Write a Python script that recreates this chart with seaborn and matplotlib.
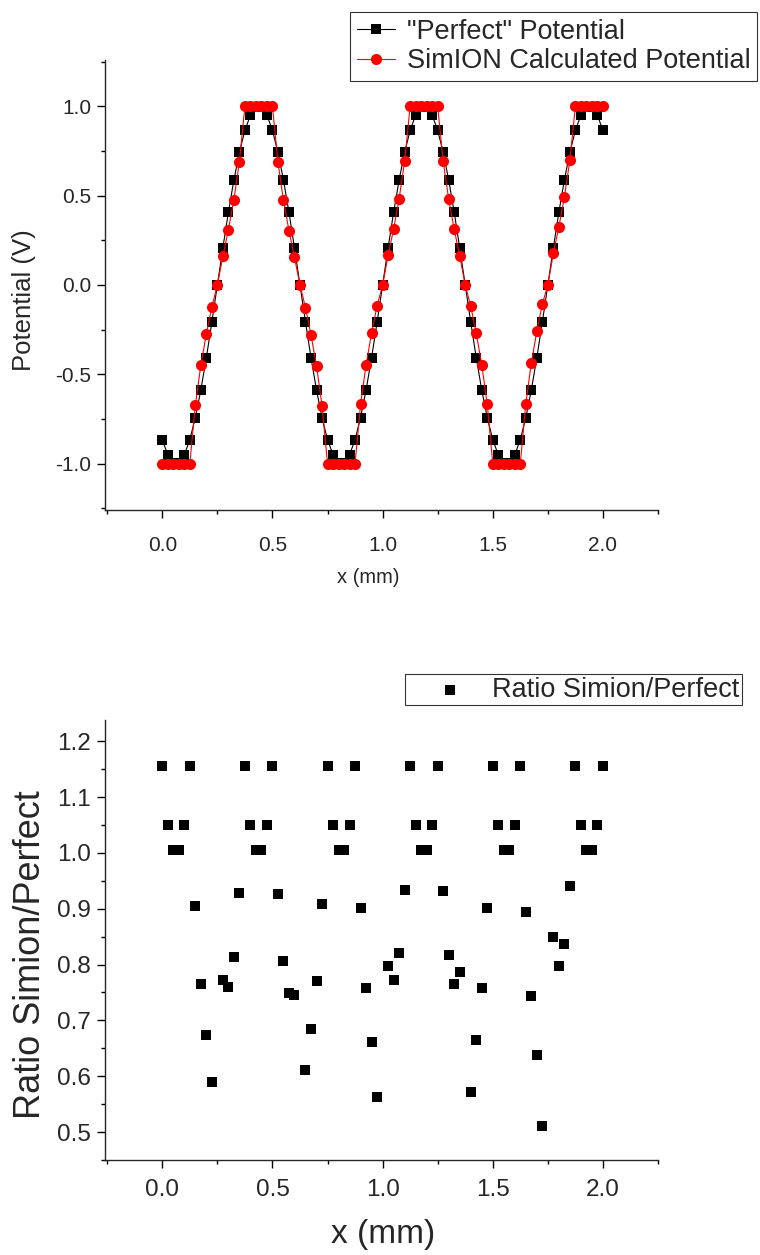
import numpy as np
import pandas as pd
import matplotlib
matplotlib.use("Agg")
import matplotlib.pyplot as plt
from matplotlib.ticker import MultipleLocator, AutoMinorLocator, FormatStrFormatter
import seaborn as sns

# ---------------- data ----------------
x_mm = [round(0.025 * i, 3) for i in range(81)]

perfect = [
    -0.866, -0.951, -0.995, -0.995, -0.951, -0.866, -0.743, -0.588, -0.407, -0.208,
    0.0, 0.208, 0.407, 0.588, 0.743, 0.866, 0.951, 0.995, 0.995, 0.951,
    0.866, 0.743, 0.588, 0.407, 0.208, 0.0, -0.208, -0.407, -0.588, -0.743,
    -0.866, -0.951, -0.995, -0.995, -0.951, -0.866, -0.743, -0.588, -0.407, -0.208,
    0.0, 0.208, 0.407, 0.588, 0.743, 0.866, 0.951, 0.995, 0.995, 0.951,
    0.866, 0.743, 0.588, 0.407, 0.208, 0.0, -0.208, -0.407, -0.588, -0.743,
    -0.866, -0.951, -0.995, -0.995, -0.951, -0.866, -0.743, -0.588, -0.407, -0.208,
    0.0, 0.208, 0.407, 0.588, 0.743, 0.866, 0.951, 0.995, 0.995, 0.951,
    0.866,
]

simion = [
    -1.0, -1.0, -1.0, -1.0, -1.0, -1.0, -0.672, -0.450, -0.274, -0.123,
    0.0, 0.161, 0.309, 0.478, 0.690, 1.0, 1.0, 1.0, 1.0, 1.0,
    1.0, 0.688, 0.474, 0.305, 0.155, 0.0, -0.127, -0.279, -0.453, -0.675,
    -1.0, -1.0, -1.0, -1.0, -1.0, -1.0, -0.669, -0.446, -0.269, -0.117,
    0.0, 0.166, 0.314, 0.483, 0.693, 1.0, 1.0, 1.0, 1.0, 1.0,
    1.0, 0.692, 0.480, 0.312, 0.163, 0.0, -0.119, -0.271, -0.446, -0.669,
    -1.0, -1.0, -1.0, -1.0, -1.0, -1.0, -0.664, -0.437, -0.260, -0.106,
    0.0, 0.177, 0.325, 0.492, 0.699, 1.0, 1.0, 1.0, 1.0, 1.0,
    1.0,
]

nan = float("nan")
ratio = [
    1.155, 1.05, 1.005, 1.005, 1.05, 1.155, 0.905, 0.765, 0.674, 0.589,
    nan, 0.772, 0.760, 0.813, 0.929, 1.155, 1.05, 1.005, 1.005, 1.05,
    1.155, 0.926, 0.806, 0.749, 0.746, nan, 0.612, 0.685, 0.770, 0.908,
    1.155, 1.05, 1.005, 1.005, 1.05, 1.155, 0.901, 0.758, 0.662, 0.562,
    nan, 0.798, 0.772, 0.821, 0.933, 1.155, 1.05, 1.005, 1.005, 1.05,
    1.155, 0.931, 0.817, 0.766, 0.786, nan, 0.571, 0.665, 0.758, 0.901,
    1.155, 1.05, 1.005, 1.005, 1.05, 1.155, 0.894, 0.744, 0.638, 0.511,
    nan, 0.850, 0.798, 0.836, 0.941, 1.155, 1.05, 1.005, 1.005, 1.05,
    1.155,
]

label_perfect = '"Perfect" Potential'
label_simion = "SimION Calculated Potential"
label_ratio = "Ratio Simion/Perfect"

df = pd.DataFrame({"x": x_mm, "perfect": perfect, "simion": simion, "ratio": ratio})

# ---------------- style ----------------
sns.set_style("ticks")
plt.rcParams["font.family"] = ["Liberation Sans", "DejaVu Sans"]
plt.rcParams["axes.linewidth"] = 1.0

W, H = 760, 1255
fig = plt.figure(figsize=(W / 100, H / 100), dpi=100)

def fx(px):
    return px / W

def fy(py):
    return 1 - py / H

ax1 = fig.add_axes([fx(105), fy(510), fx(658) - fx(105), fy(60) - fy(510)])
ax2 = fig.add_axes([fx(105), fy(1160), fx(658) - fx(105), fy(720) - fy(1160)])

# ---------------- top plot ----------------
sns.lineplot(data=df, x="x", y="perfect", ax=ax1, color="black", linewidth=0.8,
             marker="s", markersize=6.6, markeredgewidth=0, label=label_perfect,
             sort=False, estimator=None)
sns.lineplot(data=df, x="x", y="simion", ax=ax1, color="red", linewidth=0.8,
             marker="o", markersize=8, markeredgewidth=0, label=label_simion,
             sort=False, estimator=None)

ax1.set_xlim(-0.26, 2.25)
ax1.set_ylim(-1.26, 1.26)
ax1.xaxis.set_major_locator(MultipleLocator(0.5))
ax1.xaxis.set_minor_locator(AutoMinorLocator(2))
ax1.yaxis.set_major_locator(MultipleLocator(0.5))
ax1.yaxis.set_minor_locator(AutoMinorLocator(2))
ax1.xaxis.set_major_formatter(FormatStrFormatter("%.1f"))
ax1.yaxis.set_major_formatter(FormatStrFormatter("%.1f"))
ax1.tick_params(which="major", direction="out", length=6, width=1, labelsize=15, color="black")
ax1.tick_params(which="minor", direction="out", length=3, width=1, color="black")
ax1.tick_params(axis="x", which="major", pad=13)
ax1.tick_params(axis="y", which="major", pad=4)
ax1.set_xlabel("x (mm)", fontsize=14.5)
ax1.set_ylabel("Potential (V)", fontsize=18.5)
ax1.xaxis.set_label_coords(fx(368), fy(568), transform=fig.transFigure)
ax1.yaxis.set_label_coords(fx(36), fy(300), transform=fig.transFigure)
sns.despine(ax=ax1)

leg1 = ax1.legend(loc="upper left", bbox_to_anchor=(fx(350), fy(12)),
                  bbox_transform=fig.transFigure, borderaxespad=0,
                  fontsize=19.5, frameon=True, fancybox=False, edgecolor="black",
                  handlelength=1.4, handletextpad=0.45, borderpad=0.25,
                  labelspacing=0.12)
leg1.get_frame().set_linewidth(0.8)

# ---------------- bottom plot ----------------
sns.scatterplot(data=df, x="x", y="ratio", ax=ax2, color="black", marker="s",
                s=55, linewidth=0, label=label_ratio)
ax2.set_xlim(-0.26, 2.25)
ax2.set_ylim(0.45, 1.238)
ax2.xaxis.set_major_locator(MultipleLocator(0.5))
ax2.xaxis.set_minor_locator(AutoMinorLocator(2))
ax2.yaxis.set_major_locator(MultipleLocator(0.1))
ax2.yaxis.set_minor_locator(AutoMinorLocator(2))
ax2.xaxis.set_major_formatter(FormatStrFormatter("%.1f"))
ax2.yaxis.set_major_formatter(FormatStrFormatter("%.1f"))
ax2.tick_params(which="major", direction="out", length=6, width=1, labelsize=17.5, color="black")
ax2.tick_params(which="minor", direction="out", length=3, width=1, color="black")
ax2.tick_params(axis="x", which="major", pad=8)
ax2.tick_params(axis="y", which="major", pad=4)
ax2.set_xlabel("x (mm)", fontsize=24)
ax2.set_ylabel("Ratio Simion/Perfect", fontsize=26)
ax2.xaxis.set_label_coords(fx(383), fy(1219), transform=fig.transFigure)
ax2.yaxis.set_label_coords(fx(48), fy(955), transform=fig.transFigure)
sns.despine(ax=ax2)

leg2 = ax2.legend(loc="upper left", bbox_to_anchor=(fx(405), fy(674)),
                  bbox_transform=fig.transFigure, borderaxespad=0,
                  fontsize=19.5, frameon=True, fancybox=False, edgecolor="black",
                  handlelength=3.1, handletextpad=0.0, borderpad=0.1,
                  markerscale=1.0)
leg2.get_frame().set_linewidth(0.8)

fig.savefig("out.png", dpi=100)
